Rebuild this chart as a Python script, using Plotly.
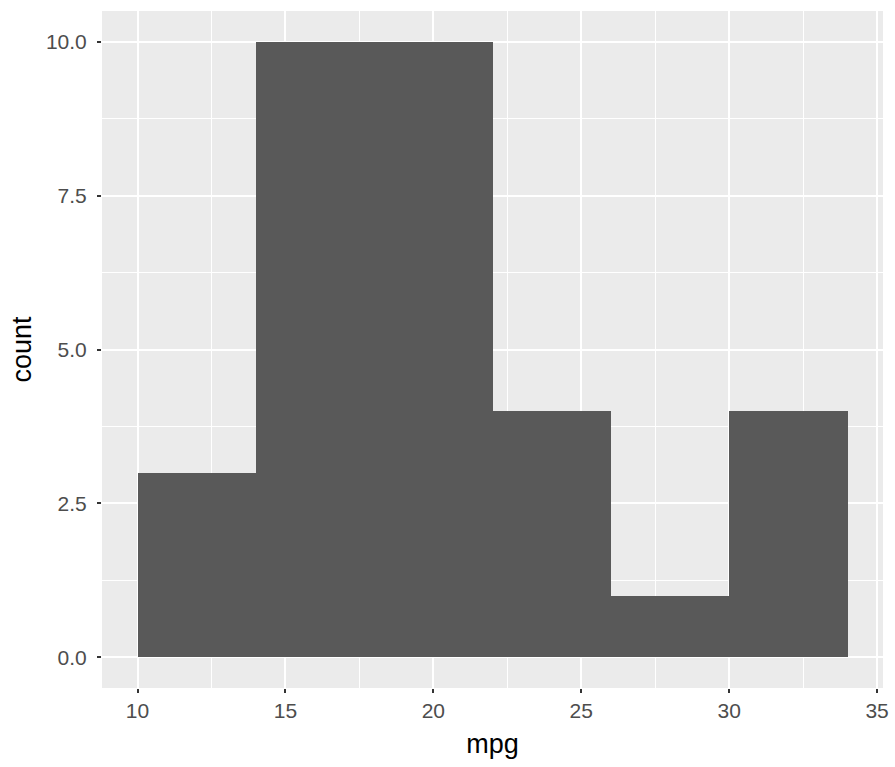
import plotly.graph_objects as go

# histogram of mpg, binwidth 4
bin_left = [10, 14, 18, 22, 26, 30]
bin_width = 4
counts = [3, 10, 10, 4, 1, 4]

x_ticks = [10, 15, 20, 25, 30, 35]
y_ticks = [0, 2.5, 5, 7.5, 10]
y_tick_labels = ['0.0', '2.5', '5.0', '7.5', '10.0']

centers = [b + bin_width / 2 for b in bin_left]

tick_font = dict(family='Liberation Sans, Arial, sans-serif', size=21, color='#4D4D4D')
title_font = dict(family='Liberation Sans, Arial, sans-serif', size=27, color='black')

fig = go.Figure()
fig.add_trace(go.Bar(
    x=centers, y=counts, width=[bin_width] * len(counts),
    marker=dict(color='#595959', line=dict(width=0)),
    showlegend=False,
))

fig.update_layout(
    width=895, height=767,
    margin=dict(l=102, r=12, t=11, b=79),
    plot_bgcolor='#EBEBEB', paper_bgcolor='white',
    font=dict(family='Liberation Sans, Arial, sans-serif', color='#4D4D4D', size=21),
    bargap=0,
    xaxis=dict(
        range=[8.8, 35.2], tickvals=x_ticks, ticktext=[str(v) for v in x_ticks],
        tickfont=tick_font, automargin=False,
        showgrid=True, gridcolor='white', gridwidth=2, zeroline=False,
        ticks='outside', ticklen=4, tickwidth=2, tickcolor='#333333',
        minor=dict(dtick=2.5, tick0=7.5, showgrid=True, gridcolor='white', gridwidth=1),
        title=dict(text='mpg', font=title_font, standoff=12),
    ),
    yaxis=dict(
        range=[-0.5, 10.5], tickvals=y_ticks, ticktext=y_tick_labels,
        tickfont=tick_font, ticklabelstandoff=6, automargin=False,
        showgrid=True, gridcolor='white', gridwidth=2, zeroline=False,
        ticks='outside', ticklen=4, tickwidth=2, tickcolor='#333333',
        minor=dict(dtick=1.25, tick0=0, showgrid=True, gridcolor='white', gridwidth=1),
        title=dict(text='count', font=title_font, standoff=6),
    ),
)

fig.write_html("out.html", config={'displayModeBar': False},
               post_script="document.body.style.margin='0';")
